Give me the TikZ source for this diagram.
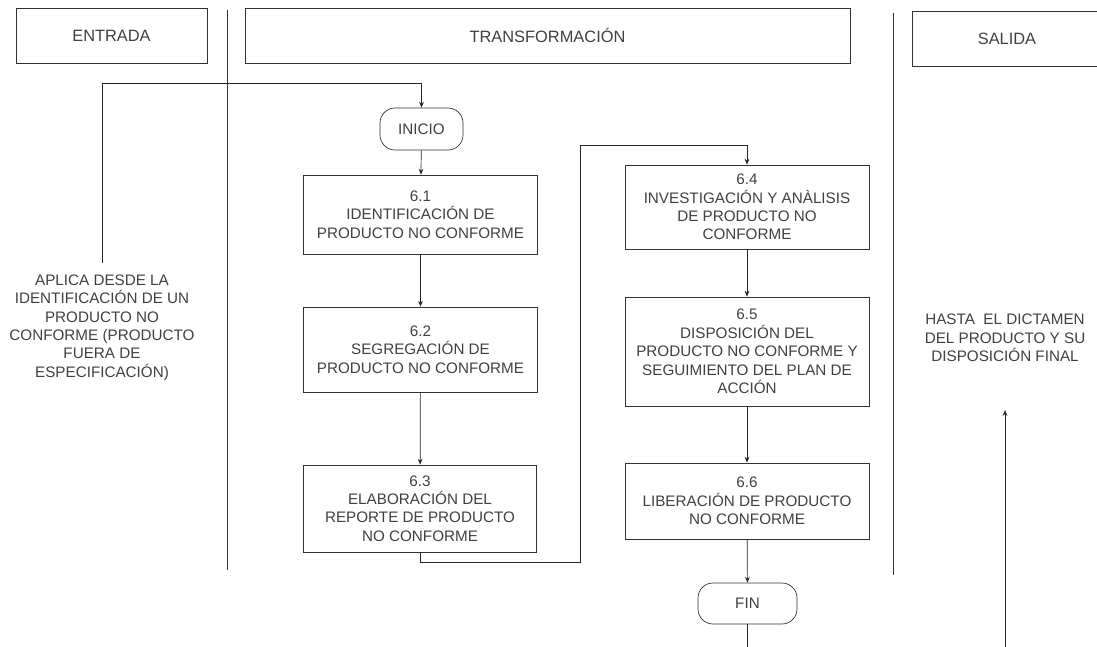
\documentclass[tikz,border=0pt]{standalone}
\usepackage{fontspec}
\setmainfont{Liberation Sans}
\usetikzlibrary{arrows.meta}

\begin{document}
\begin{tikzpicture}[x=0.03cm, y=-0.03cm, line width=0.6pt,
  txt/.style={text=black!75, font=\fontsize{13}{15.7}\selectfont, align=center},
  stepbox/.style={draw=black!80, txt, inner sep=0pt},
  endbox/.style={stepbox, rounded corners=0.45cm},
  hdrbox/.style={draw=black!80, txt, font=\fontsize{14}{16}\selectfont, inner sep=0pt, minimum height=1.65cm},
  flow/.style={draw=black!85, -{Stealth[length=5pt,width=4pt]}}
]
\useasboundingbox (0,0) rectangle (1097,647);

% headers
\node[hdrbox, minimum width=5.73cm] (entrada) at (111.5,35.5) {ENTRADA};
\node[hdrbox, minimum width=18.15cm] (transf) at (547.5,35.5) {TRANSFORMACIÓN};
\node[hdrbox, minimum width=5.7cm] (salida) at (1007,39) {SALIDA};

% separators
\coordinate (sepA1) at (227,10);
\coordinate (sepA2) at (227,570);
\coordinate (sepB1) at (893,13);
\coordinate (sepB2) at (893,575);
\draw[black!80] (sepA1) -- (sepA2);
\draw[black!80] (sepB1) -- (sepB2);

% side texts
\node[txt] (desde) at (102,327.5) {APLICA DESDE LA\\IDENTIFICACIÓN DE UN\\PRODUCTO NO\\CONFORME (PRODUCTO\\FUERA DE\\ESPECIFICACIÓN)};
\node[txt] (hasta) at (1005,338) {HASTA\ \ EL DICTAMEN\\DEL PRODUCTO Y SU\\DISPOSICIÓN FINAL};

% left column
\node[endbox, minimum width=2.49cm, minimum height=1.26cm] (inicio) at (421.5,129) {INICIO};
\node[stepbox, minimum width=7cm, minimum height=2.37cm] (p61) at (420.5,214.5) {6.1\\IDENTIFICACIÓN DE\\PRODUCTO NO CONFORME};
\node[stepbox, minimum width=7cm, minimum height=2.55cm] (p62) at (420.5,349.5) {6.2\\SEGREGACIÓN DE\\PRODUCTO NO CONFORME};
\node[stepbox, minimum width=7cm, minimum height=2.61cm] (p63) at (420,508.5) {6.3\\ELABORACIÓN DEL\\REPORTE DE PRODUCTO\\NO CONFORME};

% right column
\node[stepbox, minimum width=7.32cm, minimum height=2.52cm] (p64) at (747,207) {6.4\\INVESTIGACIÓN Y ANÀLISIS\\DE PRODUCTO NO\\CONFORME};
\node[stepbox, minimum width=7.32cm, minimum height=3.27cm] (p65) at (747,351.5) {6.5\\DISPOSICIÓN DEL\\PRODUCTO NO CONFORME Y\\SEGUIMIENTO DEL PLAN DE\\ACCIÓN};
\node[stepbox, minimum width=7.32cm, minimum height=2.28cm] (p66) at (747,501) {6.6\\LIBERACIÓN DE PRODUCTO\\NO CONFORME};
\node[endbox, minimum width=2.97cm, minimum height=1.23cm] (fin) at (747.5,603.5) {FIN};

% connectors
\coordinate (inA) at (102,263);
\coordinate (outA) at (1005,410);
\draw[flow] (inA) -- (102,83) -| (inicio.north);
\draw[flow] (inicio) -- (p61);
\draw[flow] (p61) -- (p62);
\draw[flow] (p62) -- (p63);
\draw[flow] (p63.south) -- ++(0,10) -| (580,145) -| (p64.north);
\draw[flow] (p64) -- (p65);
\draw[flow] (p65) -- (p66);
\draw[flow] (p66) -- (fin);
\draw[flow] (fin.south) |- (1005,652) -- (outA);

\end{tikzpicture}
\end{document}
